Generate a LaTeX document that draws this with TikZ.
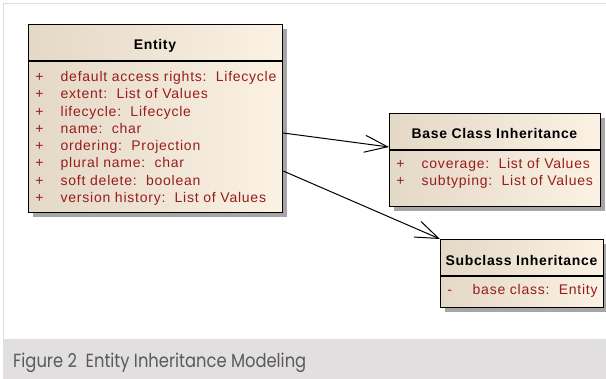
\documentclass[tikz,border=0pt]{standalone}
\usepackage{fontspec}
\setmainfont{Liberation Sans}
\newfontfamily\umlfont[LetterSpace=5.4]{Liberation Sans}
\newfontfamily\umltitlefont[LetterSpace=4.6]{Liberation Sans}
\newfontfamily\capfont[FakeStretch=0.86]{Poppins}
\usetikzlibrary{arrows.meta,shadows}

\definecolor{boxL}{HTML}{E4D8C6}
\definecolor{boxR}{HTML}{FBF2E4}
\definecolor{attrred}{HTML}{981C1C}
\definecolor{shadowgray}{HTML}{A6A6A6}
\definecolor{framegray}{HTML}{DDDDDD}
\definecolor{bandgray}{HTML}{E1DFDF}
\definecolor{captext}{HTML}{5A5A5A}

\tikzset{
  classbox/.style={draw=black, line width=1.2pt, left color=boxL, right color=boxR,
    anchor=north west, inner sep=0pt,
    drop shadow={shadow xshift=4pt, shadow yshift=-4pt, fill=shadowgray, opacity=1}},
  classtitle/.style={anchor=base, inner sep=0pt, font=\umltitlefont\bfseries\fontsize{14}{16}\selectfont},
  attr/.style={anchor=base west, inner sep=0pt, text=attrred, font=\umlfont\fontsize{14}{16}\selectfont},
  vis/.style={anchor=base, inner sep=0pt, text=attrred, font=\umlfont\fontsize{14}{16}\selectfont},
  divider/.style={draw=black, line width=1.2pt},
  assoc/.style={draw=black, line width=1pt, -{Straight Barb[length=23pt, width=17pt, line width=1pt]}}
}

\begin{document}
\begin{tikzpicture}[x=1pt, y=-1pt]
\useasboundingbox (0,0) rectangle (606,379);

% page frame and caption band
\fill[bandgray] (3,339) rectangle (606,379);
\draw[framegray, line width=1.3pt] (3.6,339) -- (3.6,3.6) -- (606,3.6);
\node[anchor=base west, inner sep=0pt, text=captext, font=\capfont\fontsize{19}{22}\selectfont]
  (caption) at (13,368) {Figure 2\ \ Entity Inheritance Modeling};

% class Entity
\node[classbox, minimum width=254pt, minimum height=188pt] (entity) at (28,24) {};
\node[classtitle] (entityT) at (155,50) {Entity};
\draw[divider] (entity.west |- 0,61) -- (entity.east |- 0,61);
\foreach \i/\t in {0/{default access rights:\ \ Lifecycle},
                   1/{extent:\ \ List of Values},
                   2/{lifecycle:\ \ Lifecycle},
                   3/{name:\ \ char},
                   4/{ordering:\ \ Projection},
                   5/{plural name:\ \ char},
                   6/{soft delete:\ \ boolean},
                   7/{version history:\ \ List of Values}} {
  \node[vis] (entityV\i) at (39.5, 81.5+17.3*\i) {+};
  \node[attr] (entityA\i) at (60.5, 81.5+17.3*\i) {\t};
}

% class Base Class Inheritance
\node[classbox, minimum width=211pt, minimum height=93pt] (base) at (389,113) {};
\node[classtitle] (baseT) at (494.5,138.3) {Base Class Inheritance};
\draw[divider] (base.west |- 0,150) -- (base.east |- 0,150);
\node[vis] (baseV0) at (400.5,168.3) {+};
\node[attr] (baseA0) at (421.5,168.3) {coverage:\ \ List of Values};
\node[vis] (baseV1) at (400.5,185.7) {+};
\node[attr] (baseA1) at (421.5,185.7) {subtyping:\ \ List of Values};

% class Subclass Inheritance
\node[classbox, minimum width=163pt, minimum height=68pt] (sub) at (440,239) {};
\node[classtitle] (subT) at (521.5,265.3) {Subclass Inheritance};
\draw[divider] (sub.west |- 0,276) -- (sub.east |- 0,276);
\node[vis] (subV0) at (449.7,295) {-};
\node[attr] (subA0) at (472.5,295) {base class:\ \ Entity};

% associations
\coordinate (entityOut1) at (entity.east |- 0,133);
\coordinate (entityOut2) at (entity.east |- 0,171);
\coordinate (baseIn) at (base.west |- 0,147);
\draw[assoc] (entityOut1) -- (baseIn);
\draw[assoc] (entityOut2) -- (sub.north west);
\end{tikzpicture}
\end{document}
